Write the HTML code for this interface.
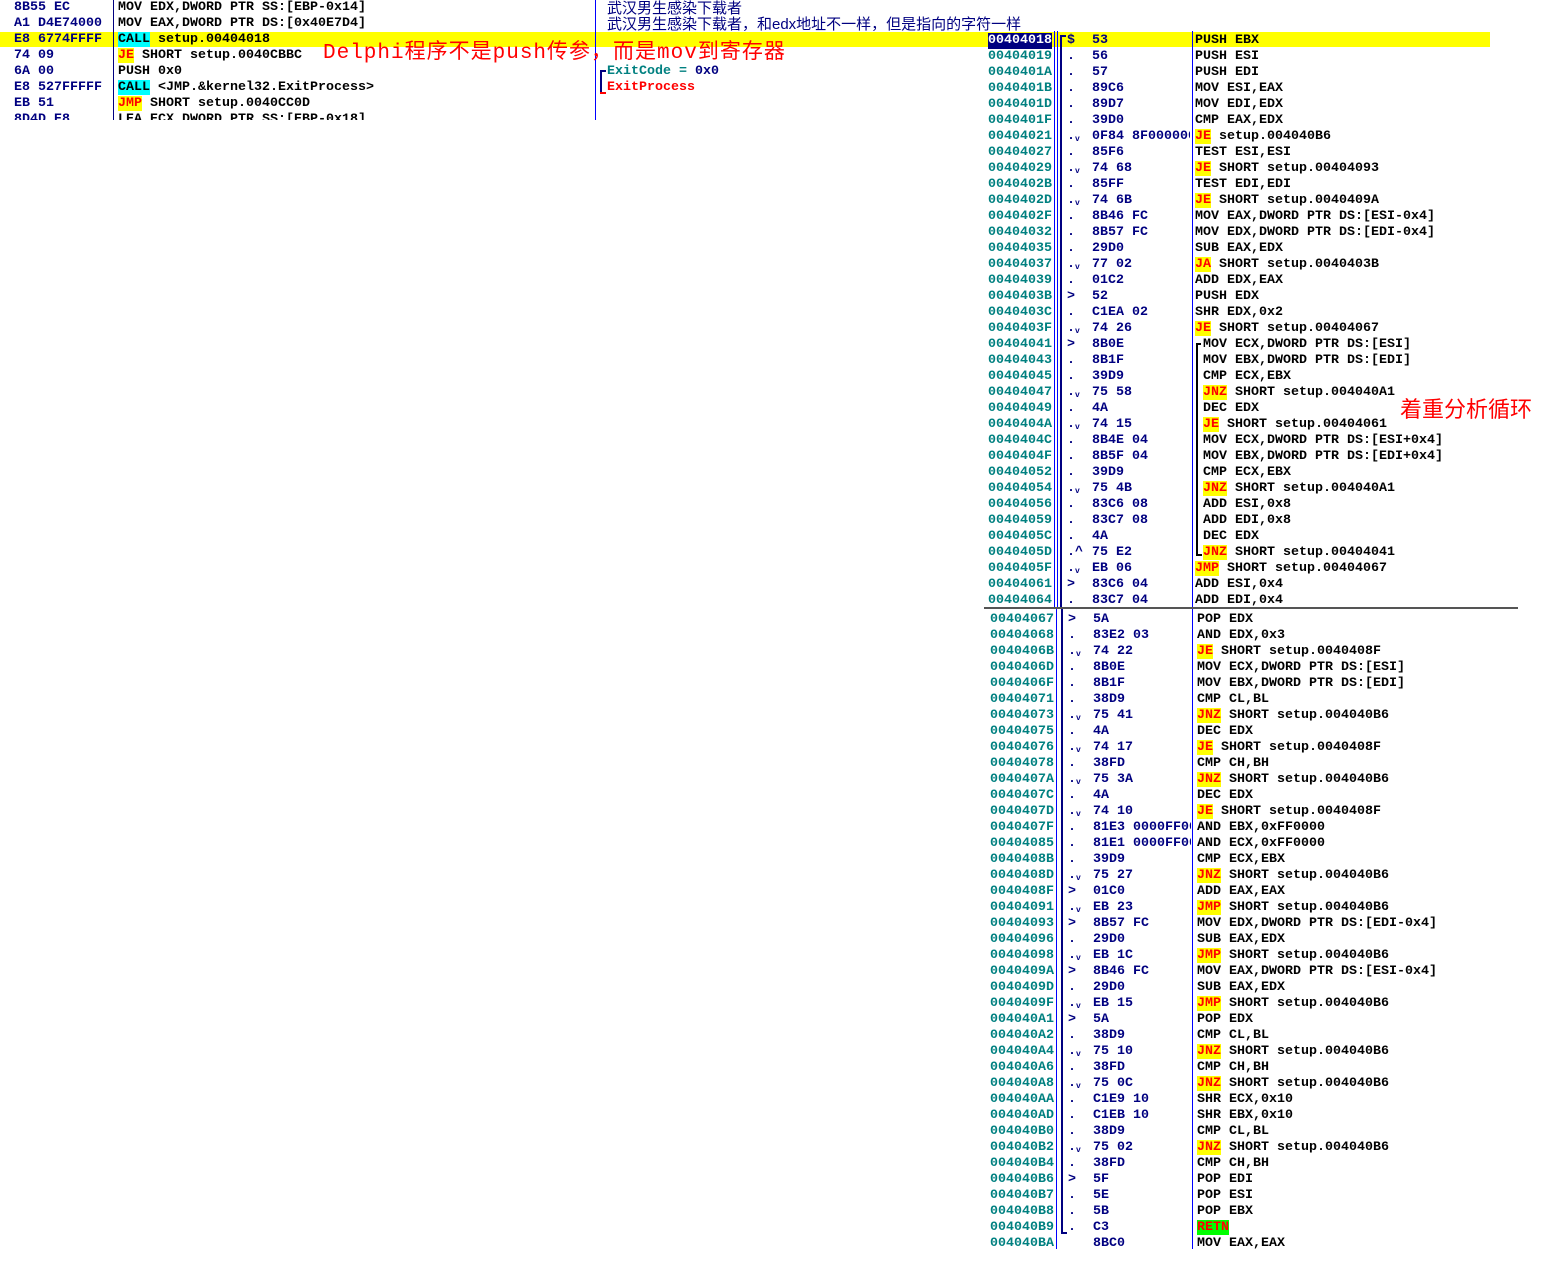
<!DOCTYPE html>
<html><head><meta charset="utf-8"><style>
body{margin:0;width:1561px;height:1267px;background:#fff;position:relative;overflow:hidden;font:bold 13.33px "Liberation Mono",monospace;}
.r{position:absolute;left:0;height:16px;line-height:16px;white-space:nowrap;margin-top:2px}
.r > span{position:absolute;top:0;}
.a{left:988px;color:#008080}
.m{left:1067px;color:#000080}
.h{left:1092px;color:#000080;width:98px;overflow:hidden}
.i{left:1195px;color:#000}
.lo .a{left:990px}.lo .m{left:1068px}.lo .h{left:1093px}.lo .i{left:1197px}
.lp .i{left:1203px}
.lh{left:14px;color:#000080}.li{left:118px;color:#000}
.j{background:#ff0;color:#f00}
.c{background:#0ff;color:#000}
.g{background:#0f0;color:#f00}
.vl{position:absolute;background:#00f;width:1px}
.nv{position:absolute;background:#000080}
sub{font-size:8px;vertical-align:-2px}
.cn{position:absolute;font-weight:normal;font-family:"Liberation Sans","WenQuanYi Zen Hei","Noto Sans CJK SC",sans-serif;white-space:nowrap}
</style></head><body>
<div style="position:absolute;left:0;top:32px;width:1490px;height:15px;background:#ff0"></div>
<div style="position:absolute;left:595px;top:0;width:1px;height:120px;background:#00f"></div>
<div style="position:absolute;left:113px;top:0;width:1px;height:120px;background:#000080"></div>
<div style="position:absolute;left:0;top:0;width:600px;height:120px;overflow:hidden">
<div class="r" style="top:-2px"><span class="lh">8B55 EC</span><span class="li">MOV EDX,DWORD PTR SS:[EBP-0x14]</span></div>
<div class="r" style="top:14px"><span class="lh">A1 D4E74000</span><span class="li">MOV EAX,DWORD PTR DS:[0x40E7D4]</span></div>
<div class="r" style="top:30px"><span class="lh">E8 6774FFFF</span><span class="li"><span class="c">CALL</span> setup.00404018</span></div>
<div class="r" style="top:46px"><span class="lh">74 09</span><span class="li"><span class="j">JE</span> SHORT setup.0040CBBC</span></div>
<div class="r" style="top:62px"><span class="lh">6A 00</span><span class="li">PUSH 0x0</span></div>
<div class="r" style="top:78px"><span class="lh">E8 527FFFFF</span><span class="li"><span class="c">CALL</span> &lt;JMP.&amp;kernel32.ExitProcess&gt;</span></div>
<div class="r" style="top:94px"><span class="lh">EB 51</span><span class="li"><span class="j">JMP</span> SHORT setup.0040CC0D</span></div>
<div class="r" style="top:110px"><span class="lh">8D4D E8</span><span class="li">LEA ECX,DWORD PTR SS:[EBP-0x18]</span></div>
</div>
<div class="cn" style="left:607px;top:-3px;font-size:15px;color:#000080">武汉男生感染下载者</div>
<div class="cn" style="left:607px;top:13px;font-size:15px;color:#000080">武汉男生感染下载者，和edx地址不一样，但是指向的字符一样</div>
<div class="cn" style="left:323px;top:35px;font-size:21px;color:#f00;font-family:'Liberation Mono','WenQuanYi Zen Hei',monospace;letter-spacing:1px">Delphi程序不是push传参，而是mov到寄存器</div>
<div class="r" style="top:62px"><span style="left:607px;color:#008080">ExitCode = <span style="color:#000080">0x0</span></span></div>
<div class="r" style="top:78px"><span style="left:607px;color:#f00">ExitProcess</span></div>
<div class="nv" style="left:600px;top:70px;width:2px;height:24px;background:#000080"></div>
<div class="nv" style="left:600px;top:70px;width:6px;height:2px"></div>
<div class="nv" style="left:600px;top:92px;width:6px;height:2px;background:#f00"></div>
<div class="cn" style="left:1400px;top:392px;font-size:22px;color:#f00">着重分析循环</div>

<div class="vl" style="left:1054px;top:31px;height:576px"></div>
<div class="vl" style="left:1057px;top:31px;height:576px"></div>
<div class="vl" style="left:1192px;top:31px;height:576px"></div>
<div class="vl" style="left:1056px;top:609px;height:640px"></div>
<div class="vl" style="left:1192px;top:609px;height:640px"></div>
<div class="nv" style="left:1060px;top:35px;width:2px;height:572px"></div>
<div class="nv" style="left:1060px;top:35px;width:6px;height:2px"></div>
<div class="nv" style="left:1061px;top:609px;width:2px;height:625px"></div>
<div class="nv" style="left:1061px;top:1232px;width:6px;height:2px"></div>
<div class="nv" style="left:1196px;top:343px;width:2px;height:213px;background:#000"></div>
<div class="nv" style="left:1196px;top:343px;width:5px;height:2px;background:#000"></div>
<div class="nv" style="left:1196px;top:554px;width:6px;height:2px;background:#000"></div>
<div style="position:absolute;left:984px;top:607px;width:534px;height:2px;background:#555"></div>

<div class="r" style="top:31px"><span class="a" style="background:#000080;color:#fff">00404018</span><span class="m">$</span><span class="h">53</span><span class="i">PUSH EBX</span></div>
<div class="r" style="top:47px"><span class="a">00404019</span><span class="m">.</span><span class="h">56</span><span class="i">PUSH ESI</span></div>
<div class="r" style="top:63px"><span class="a">0040401A</span><span class="m">.</span><span class="h">57</span><span class="i">PUSH EDI</span></div>
<div class="r" style="top:79px"><span class="a">0040401B</span><span class="m">.</span><span class="h">89C6</span><span class="i">MOV ESI,EAX</span></div>
<div class="r" style="top:95px"><span class="a">0040401D</span><span class="m">.</span><span class="h">89D7</span><span class="i">MOV EDI,EDX</span></div>
<div class="r" style="top:111px"><span class="a">0040401F</span><span class="m">.</span><span class="h">39D0</span><span class="i">CMP EAX,EDX</span></div>
<div class="r" style="top:127px"><span class="a">00404021</span><span class="m">.<sub>v</sub></span><span class="h">0F84 8F000000</span><span class="i"><span class="j">JE</span> setup.004040B6</span></div>
<div class="r" style="top:143px"><span class="a">00404027</span><span class="m">.</span><span class="h">85F6</span><span class="i">TEST ESI,ESI</span></div>
<div class="r" style="top:159px"><span class="a">00404029</span><span class="m">.<sub>v</sub></span><span class="h">74 68</span><span class="i"><span class="j">JE</span> SHORT setup.00404093</span></div>
<div class="r" style="top:175px"><span class="a">0040402B</span><span class="m">.</span><span class="h">85FF</span><span class="i">TEST EDI,EDI</span></div>
<div class="r" style="top:191px"><span class="a">0040402D</span><span class="m">.<sub>v</sub></span><span class="h">74 6B</span><span class="i"><span class="j">JE</span> SHORT setup.0040409A</span></div>
<div class="r" style="top:207px"><span class="a">0040402F</span><span class="m">.</span><span class="h">8B46 FC</span><span class="i">MOV EAX,DWORD PTR DS:[ESI-0x4]</span></div>
<div class="r" style="top:223px"><span class="a">00404032</span><span class="m">.</span><span class="h">8B57 FC</span><span class="i">MOV EDX,DWORD PTR DS:[EDI-0x4]</span></div>
<div class="r" style="top:239px"><span class="a">00404035</span><span class="m">.</span><span class="h">29D0</span><span class="i">SUB EAX,EDX</span></div>
<div class="r" style="top:255px"><span class="a">00404037</span><span class="m">.<sub>v</sub></span><span class="h">77 02</span><span class="i"><span class="j">JA</span> SHORT setup.0040403B</span></div>
<div class="r" style="top:271px"><span class="a">00404039</span><span class="m">.</span><span class="h">01C2</span><span class="i">ADD EDX,EAX</span></div>
<div class="r" style="top:287px"><span class="a">0040403B</span><span class="m">&gt;</span><span class="h">52</span><span class="i">PUSH EDX</span></div>
<div class="r" style="top:303px"><span class="a">0040403C</span><span class="m">.</span><span class="h">C1EA 02</span><span class="i">SHR EDX,0x2</span></div>
<div class="r" style="top:319px"><span class="a">0040403F</span><span class="m">.<sub>v</sub></span><span class="h">74 26</span><span class="i"><span class="j">JE</span> SHORT setup.00404067</span></div>
<div class="r lp" style="top:335px"><span class="a">00404041</span><span class="m">&gt;</span><span class="h">8B0E</span><span class="i">MOV ECX,DWORD PTR DS:[ESI]</span></div>
<div class="r lp" style="top:351px"><span class="a">00404043</span><span class="m">.</span><span class="h">8B1F</span><span class="i">MOV EBX,DWORD PTR DS:[EDI]</span></div>
<div class="r lp" style="top:367px"><span class="a">00404045</span><span class="m">.</span><span class="h">39D9</span><span class="i">CMP ECX,EBX</span></div>
<div class="r lp" style="top:383px"><span class="a">00404047</span><span class="m">.<sub>v</sub></span><span class="h">75 58</span><span class="i"><span class="j">JNZ</span> SHORT setup.004040A1</span></div>
<div class="r lp" style="top:399px"><span class="a">00404049</span><span class="m">.</span><span class="h">4A</span><span class="i">DEC EDX</span></div>
<div class="r lp" style="top:415px"><span class="a">0040404A</span><span class="m">.<sub>v</sub></span><span class="h">74 15</span><span class="i"><span class="j">JE</span> SHORT setup.00404061</span></div>
<div class="r lp" style="top:431px"><span class="a">0040404C</span><span class="m">.</span><span class="h">8B4E 04</span><span class="i">MOV ECX,DWORD PTR DS:[ESI+0x4]</span></div>
<div class="r lp" style="top:447px"><span class="a">0040404F</span><span class="m">.</span><span class="h">8B5F 04</span><span class="i">MOV EBX,DWORD PTR DS:[EDI+0x4]</span></div>
<div class="r lp" style="top:463px"><span class="a">00404052</span><span class="m">.</span><span class="h">39D9</span><span class="i">CMP ECX,EBX</span></div>
<div class="r lp" style="top:479px"><span class="a">00404054</span><span class="m">.<sub>v</sub></span><span class="h">75 4B</span><span class="i"><span class="j">JNZ</span> SHORT setup.004040A1</span></div>
<div class="r lp" style="top:495px"><span class="a">00404056</span><span class="m">.</span><span class="h">83C6 08</span><span class="i">ADD ESI,0x8</span></div>
<div class="r lp" style="top:511px"><span class="a">00404059</span><span class="m">.</span><span class="h">83C7 08</span><span class="i">ADD EDI,0x8</span></div>
<div class="r lp" style="top:527px"><span class="a">0040405C</span><span class="m">.</span><span class="h">4A</span><span class="i">DEC EDX</span></div>
<div class="r lp" style="top:543px"><span class="a">0040405D</span><span class="m">.^</span><span class="h">75 E2</span><span class="i"><span class="j">JNZ</span> SHORT setup.00404041</span></div>
<div class="r" style="top:559px"><span class="a">0040405F</span><span class="m">.<sub>v</sub></span><span class="h">EB 06</span><span class="i"><span class="j">JMP</span> SHORT setup.00404067</span></div>
<div class="r" style="top:575px"><span class="a">00404061</span><span class="m">&gt;</span><span class="h">83C6 04</span><span class="i">ADD ESI,0x4</span></div>
<div class="r" style="top:591px"><span class="a">00404064</span><span class="m">.</span><span class="h">83C7 04</span><span class="i">ADD EDI,0x4</span></div>

<div class="r lo" style="top:610px"><span class="a">00404067</span><span class="m">&gt;</span><span class="h">5A</span><span class="i">POP EDX</span></div>
<div class="r lo" style="top:626px"><span class="a">00404068</span><span class="m">.</span><span class="h">83E2 03</span><span class="i">AND EDX,0x3</span></div>
<div class="r lo" style="top:642px"><span class="a">0040406B</span><span class="m">.<sub>v</sub></span><span class="h">74 22</span><span class="i"><span class="j">JE</span> SHORT setup.0040408F</span></div>
<div class="r lo" style="top:658px"><span class="a">0040406D</span><span class="m">.</span><span class="h">8B0E</span><span class="i">MOV ECX,DWORD PTR DS:[ESI]</span></div>
<div class="r lo" style="top:674px"><span class="a">0040406F</span><span class="m">.</span><span class="h">8B1F</span><span class="i">MOV EBX,DWORD PTR DS:[EDI]</span></div>
<div class="r lo" style="top:690px"><span class="a">00404071</span><span class="m">.</span><span class="h">38D9</span><span class="i">CMP CL,BL</span></div>
<div class="r lo" style="top:706px"><span class="a">00404073</span><span class="m">.<sub>v</sub></span><span class="h">75 41</span><span class="i"><span class="j">JNZ</span> SHORT setup.004040B6</span></div>
<div class="r lo" style="top:722px"><span class="a">00404075</span><span class="m">.</span><span class="h">4A</span><span class="i">DEC EDX</span></div>
<div class="r lo" style="top:738px"><span class="a">00404076</span><span class="m">.<sub>v</sub></span><span class="h">74 17</span><span class="i"><span class="j">JE</span> SHORT setup.0040408F</span></div>
<div class="r lo" style="top:754px"><span class="a">00404078</span><span class="m">.</span><span class="h">38FD</span><span class="i">CMP CH,BH</span></div>
<div class="r lo" style="top:770px"><span class="a">0040407A</span><span class="m">.<sub>v</sub></span><span class="h">75 3A</span><span class="i"><span class="j">JNZ</span> SHORT setup.004040B6</span></div>
<div class="r lo" style="top:786px"><span class="a">0040407C</span><span class="m">.</span><span class="h">4A</span><span class="i">DEC EDX</span></div>
<div class="r lo" style="top:802px"><span class="a">0040407D</span><span class="m">.<sub>v</sub></span><span class="h">74 10</span><span class="i"><span class="j">JE</span> SHORT setup.0040408F</span></div>
<div class="r lo" style="top:818px"><span class="a">0040407F</span><span class="m">.</span><span class="h">81E3 0000FF00</span><span class="i">AND EBX,0xFF0000</span></div>
<div class="r lo" style="top:834px"><span class="a">00404085</span><span class="m">.</span><span class="h">81E1 0000FF00</span><span class="i">AND ECX,0xFF0000</span></div>
<div class="r lo" style="top:850px"><span class="a">0040408B</span><span class="m">.</span><span class="h">39D9</span><span class="i">CMP ECX,EBX</span></div>
<div class="r lo" style="top:866px"><span class="a">0040408D</span><span class="m">.<sub>v</sub></span><span class="h">75 27</span><span class="i"><span class="j">JNZ</span> SHORT setup.004040B6</span></div>
<div class="r lo" style="top:882px"><span class="a">0040408F</span><span class="m">&gt;</span><span class="h">01C0</span><span class="i">ADD EAX,EAX</span></div>
<div class="r lo" style="top:898px"><span class="a">00404091</span><span class="m">.<sub>v</sub></span><span class="h">EB 23</span><span class="i"><span class="j">JMP</span> SHORT setup.004040B6</span></div>
<div class="r lo" style="top:914px"><span class="a">00404093</span><span class="m">&gt;</span><span class="h">8B57 FC</span><span class="i">MOV EDX,DWORD PTR DS:[EDI-0x4]</span></div>
<div class="r lo" style="top:930px"><span class="a">00404096</span><span class="m">.</span><span class="h">29D0</span><span class="i">SUB EAX,EDX</span></div>
<div class="r lo" style="top:946px"><span class="a">00404098</span><span class="m">.<sub>v</sub></span><span class="h">EB 1C</span><span class="i"><span class="j">JMP</span> SHORT setup.004040B6</span></div>
<div class="r lo" style="top:962px"><span class="a">0040409A</span><span class="m">&gt;</span><span class="h">8B46 FC</span><span class="i">MOV EAX,DWORD PTR DS:[ESI-0x4]</span></div>
<div class="r lo" style="top:978px"><span class="a">0040409D</span><span class="m">.</span><span class="h">29D0</span><span class="i">SUB EAX,EDX</span></div>
<div class="r lo" style="top:994px"><span class="a">0040409F</span><span class="m">.<sub>v</sub></span><span class="h">EB 15</span><span class="i"><span class="j">JMP</span> SHORT setup.004040B6</span></div>
<div class="r lo" style="top:1010px"><span class="a">004040A1</span><span class="m">&gt;</span><span class="h">5A</span><span class="i">POP EDX</span></div>
<div class="r lo" style="top:1026px"><span class="a">004040A2</span><span class="m">.</span><span class="h">38D9</span><span class="i">CMP CL,BL</span></div>
<div class="r lo" style="top:1042px"><span class="a">004040A4</span><span class="m">.<sub>v</sub></span><span class="h">75 10</span><span class="i"><span class="j">JNZ</span> SHORT setup.004040B6</span></div>
<div class="r lo" style="top:1058px"><span class="a">004040A6</span><span class="m">.</span><span class="h">38FD</span><span class="i">CMP CH,BH</span></div>
<div class="r lo" style="top:1074px"><span class="a">004040A8</span><span class="m">.<sub>v</sub></span><span class="h">75 0C</span><span class="i"><span class="j">JNZ</span> SHORT setup.004040B6</span></div>
<div class="r lo" style="top:1090px"><span class="a">004040AA</span><span class="m">.</span><span class="h">C1E9 10</span><span class="i">SHR ECX,0x10</span></div>
<div class="r lo" style="top:1106px"><span class="a">004040AD</span><span class="m">.</span><span class="h">C1EB 10</span><span class="i">SHR EBX,0x10</span></div>
<div class="r lo" style="top:1122px"><span class="a">004040B0</span><span class="m">.</span><span class="h">38D9</span><span class="i">CMP CL,BL</span></div>
<div class="r lo" style="top:1138px"><span class="a">004040B2</span><span class="m">.<sub>v</sub></span><span class="h">75 02</span><span class="i"><span class="j">JNZ</span> SHORT setup.004040B6</span></div>
<div class="r lo" style="top:1154px"><span class="a">004040B4</span><span class="m">.</span><span class="h">38FD</span><span class="i">CMP CH,BH</span></div>
<div class="r lo" style="top:1170px"><span class="a">004040B6</span><span class="m">&gt;</span><span class="h">5F</span><span class="i">POP EDI</span></div>
<div class="r lo" style="top:1186px"><span class="a">004040B7</span><span class="m">.</span><span class="h">5E</span><span class="i">POP ESI</span></div>
<div class="r lo" style="top:1202px"><span class="a">004040B8</span><span class="m">.</span><span class="h">5B</span><span class="i">POP EBX</span></div>
<div class="r lo" style="top:1218px"><span class="a">004040B9</span><span class="m">.</span><span class="h">C3</span><span class="i"><span class="g">RETN</span></span></div>
<div class="r lo" style="top:1234px"><span class="a">004040BA</span><span class="h">8BC0</span><span class="i">MOV EAX,EAX</span></div>
</body></html>
